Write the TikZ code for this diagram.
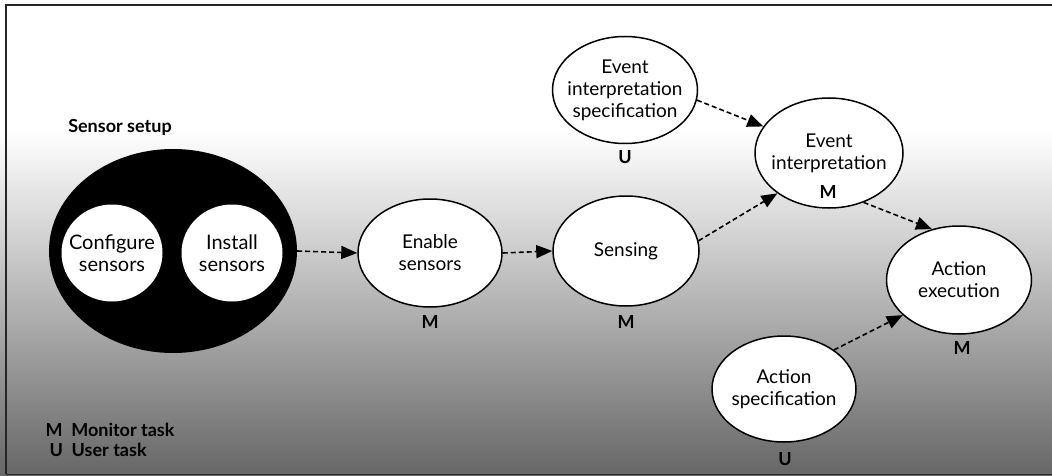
\documentclass[tikz,border=0pt]{standalone}
\usepackage{fontspec}
\setmainfont{Lato}
\usetikzlibrary{arrows.meta,shapes.geometric}
\begin{document}
\begin{tikzpicture}[x=1pt,y=-1pt,
  task/.style={ellipse,draw=black,line width=1.5pt,fill=white,inner sep=-40pt,align=center,font=\fontsize{19}{22}\selectfont},
  wcirc/.style={ellipse,fill=white,inner sep=-40pt,align=center,font=\fontsize{20}{22}\selectfont},
  lbl/.style={font=\fontsize{18}{21}\selectfont\bfseries},
  flow/.style={dashed,dash pattern=on 5pt off 3pt,line width=1.6pt,-{Triangle[length=16pt,width=13pt]}}]
\useasboundingbox (0,0) rectangle (1052,476);
\fill[white] (0,0) rectangle (1052,130);
\shade[top color=white,bottom color=black!18] (0,130) rectangle (1052,238);
\shade[top color=black!18,bottom color=black!60] (0,238) rectangle (1052,476);
\draw[line width=1.6pt,black!85] (6,474) -- (6,5) -- (1052,5);
\draw[line width=1pt,black!85] (6,474) -- (1052,474);
% sensor setup
\node[lbl] (ssl) at (120,127) {Sensor setup};
\node[ellipse,fill=black,minimum width=248pt,minimum height=204pt,inner sep=0pt] (setup) at (173,251) {};
\node[wcirc,minimum width=101pt,minimum height=97pt] (conf) at (112,253) {Configure\\sensors};
\node[wcirc,minimum width=101pt,minimum height=97pt] (inst) at (232,253) {Install\\sensors};
% tasks
\node[task,minimum width=144pt,minimum height=108pt] (enable) at (430,253) {Enable\\sensors};
\node[task,minimum width=146pt,minimum height=110pt] (sens) at (626,251) {Sensing};
\node[task,minimum width=145pt,minimum height=107pt] (eis) at (625,90) {Event\\interpretation\\specification};
\node[task,minimum width=148pt,minimum height=110pt] (ei) at (829,153) {Event\\interpretation};
\node[task,minimum width=145pt,minimum height=108pt] (ae) at (959,280) {Action\\execution};
\node[task,minimum width=144pt,minimum height=106pt] (as) at (784,389) {Action\\specification};
% labels
\node[lbl] (m1) at (430,322) {M};
\node[lbl] (m2) at (626,322) {M};
\node[lbl] (u1) at (625,157) {U};
\node[lbl] (m3) at (828,192) {M};
\node[lbl] (m4) at (962,348) {M};
\node[lbl] (u2) at (785,459) {U};
% legend
\node[lbl,anchor=west] (leg1) at (42,430) {M\ \ Monitor task};
\node[lbl,anchor=west] (leg2) at (46,450) {U\ \ User task};
% connectors
\draw[flow] (setup.east) -- (enable.west);
\draw[flow] (enable.east) -- (sens.west);
\draw[flow] (sens.8) -- (ei.218);
\draw[flow] (eis.-8) -- (ei.158);
\draw[flow] (ei.-55) -- (ae.118);
\draw[flow] (as.38) -- (ae.212);
\end{tikzpicture}
\end{document}
